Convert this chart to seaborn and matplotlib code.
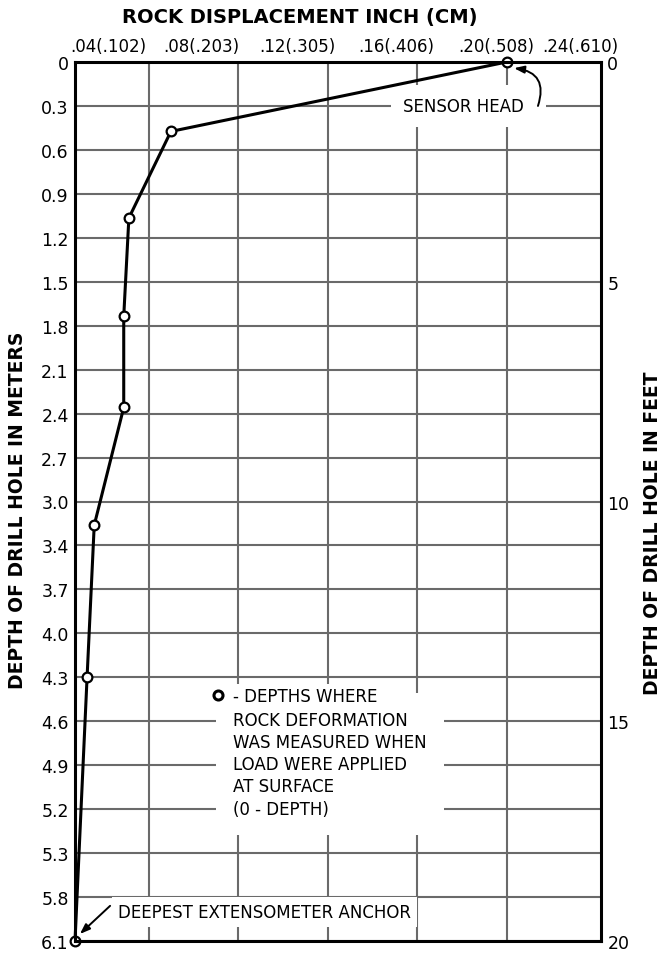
import matplotlib
matplotlib.use('Agg')
import matplotlib.pyplot as plt
import seaborn as sns
import pandas as pd
from matplotlib.lines import Line2D

# Measured points: rock displacement (inch) vs depth of drill hole (feet)
displacement_in = [0.200, 0.0498, 0.0310, 0.0287, 0.0287, 0.0155, 0.0123, 0.0069]
depth_ft = [0, 1.58, 3.55, 5.79, 7.86, 10.54, 14.0, 20]

# Axis labelling
top_labels = ['.04(.102)', '.08(.203)', '.12(.305)', '.16(.406)', '.20(.508)', '.24(.610)']
top_label_pos = [0.0217, 0.0633, 0.1062, 0.1505, 0.1952, 0.2328]
grid_x = [0.04, 0.08, 0.12, 0.16, 0.20]
meter_labels = ['0', '0.3', '0.6', '0.9', '1.2', '1.5', '1.8', '2.1', '2.4', '2.7', '3.0',
                '3.4', '3.7', '4.0', '4.3', '4.6', '4.9', '5.2', '5.3', '5.8', '6.1']
feet_ticks = [0, 5, 10, 15, 20]

df = pd.DataFrame({'disp': displacement_in, 'depth': depth_ft})

sns.set_style('white')
plt.rcParams['font.family'] = ['DejaVu Sans']
plt.rcParams['text.color'] = 'black'
plt.rcParams['xtick.color'] = 'black'
plt.rcParams['ytick.color'] = 'black'
plt.rcParams['axes.labelcolor'] = 'black'

grid_color = '#6a6a6a'

fig = plt.figure(figsize=(6.63, 9.54), dpi=100)
ax = fig.add_axes([75 / 663, 1 - 942 / 954, 526 / 663, 879 / 954])

sns.lineplot(data=df, x='disp', y='depth', sort=False, estimator=None, ax=ax,
             color='black', lw=2.2, marker='o', markersize=7, markerfacecolor='white',
             markeredgecolor='black', markeredgewidth=1.6, clip_on=False, zorder=6)

ax.set_xlim(0.0069, 0.2422)
ax.set_ylim(20, 0)
ax.set_xlabel('')
ax.set_ylabel('')

# top tick labels + vertical grid
ax.xaxis.tick_top()
ax.set_xticks(top_label_pos)
ax.set_xticklabels(top_labels)
ax.set_xticks(grid_x, minor=True)
ax.set_yticks(range(len(meter_labels)))
ax.set_yticklabels(meter_labels)
ax.tick_params(which='both', length=0)
ax.tick_params(axis='x', pad=5, labelsize=12)
ax.tick_params(axis='y', pad=4.5, labelsize=12.5)

ax.grid(False)
ax.xaxis.grid(True, which='minor', color=grid_color, lw=1.5)
ax.yaxis.grid(True, which='major', color=grid_color, lw=1.5)
for s in ax.spines.values():
    s.set_color('black')
    s.set_linewidth(2.2)
    s.set_zorder(7)

# right axis in feet
ax2 = ax.twinx()
ax2.set_ylim(20, 0)
ax2.set_yticks(feet_ticks)
ax2.set_yticklabels([str(t) for t in feet_ticks])
ax2.tick_params(length=0, pad=4.5, labelsize=12.5)
ax2.grid(False)
for s in ax2.spines.values():
    s.set_visible(False)

# titles
fig.text(300 / 663, 1 - 17 / 954, 'ROCK DISPLACEMENT INCH (CM)', ha='center', va='center',
         fontsize=14, fontweight='bold')
fig.text(18 / 663, 1 - 510 / 954, 'DEPTH OF DRILL HOLE IN METERS', ha='center', va='center',
         rotation=90, fontsize=13.5, fontweight='bold')
fig.text(652 / 663, 1 - 533 / 954, 'DEPTH OF DRILL HOLE IN FEET', ha='center', va='center',
         rotation=90, fontsize=13.5, fontweight='bold')

# sensor head annotation
ax.text(0.1536, 1.0, 'SENSOR HEAD  ', ha='left', va='center', fontsize=12, zorder=3,
        bbox=dict(boxstyle='square,pad=0.7', fc='white', ec='none'))
ax.annotate('', xy=(0.2033, 0.14), xytext=(0.2140, 1.0),
            arrowprops=dict(arrowstyle='-|>,head_length=0.6,head_width=0.22',
                            connectionstyle='arc3,rad=0.6', color='black', lw=1.4,
                            shrinkA=0, shrinkB=0), zorder=8)

# anchor annotation
ax.text(0.0261, 19.34, 'DEEPEST EXTENSOMETER ANCHOR', ha='left', va='center', fontsize=12,
        zorder=3, bbox=dict(boxstyle='square,pad=0.35', fc='white', ec='none'))
ax.annotate('', xy=(0.0091, 19.84), xytext=(0.0226, 19.2),
            arrowprops=dict(arrowstyle='-|>,head_length=0.6,head_width=0.22',
                            color='black', lw=1.4, shrinkA=0, shrinkB=0), zorder=8)

# key block
key = Line2D([], [], ls='none', marker='o', markersize=6.5, markerfacecolor='white',
             markeredgecolor='black', markeredgewidth=2.2)
leg = ax.legend(handles=[key], labels=['- DEPTHS WHERE'], loc='upper left',
                bbox_to_anchor=(0.249, 0.2927), fontsize=12, handlelength=1.0,
                handletextpad=0.4, borderpad=0.2, borderaxespad=0, frameon=True,
                fancybox=False, framealpha=1, facecolor='white', edgecolor='none')
leg.set_zorder(5)
ax.text(0.0776, 14.76, 'ROCK DEFORMATION\nWAS MEASURED WHEN\nLOAD WERE APPLIED\nAT SURFACE\n(0 - DEPTH)',
        ha='left', va='top', fontsize=12, linespacing=1.3, zorder=3,
        bbox=dict(boxstyle='square,pad=1.05', fc='white', ec='none'))

fig.savefig('out.png', dpi=100)
